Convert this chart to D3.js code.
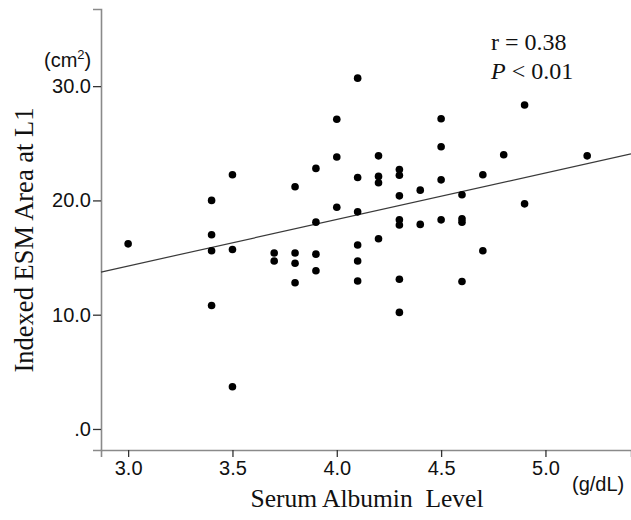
<!DOCTYPE html>
<html>
<head>
<meta charset="utf-8">
<script src="https://cdn.jsdelivr.net/npm/d3@7"></script>
<style>
  html, body { margin: 0; padding: 0; background: #fff; }
  svg { display: block; }
</style>
</head>
<body>
<script>
// ---- data ----
const albumin = [
  3.0,
  3.4, 3.4, 3.4, 3.4,
  3.5, 3.5, 3.5,
  3.7, 3.7,
  3.8, 3.8, 3.8, 3.8,
  3.9, 3.9, 3.9, 3.9,
  4.0, 4.0, 4.0,
  4.1, 4.1, 4.1, 4.1, 4.1, 4.1,
  4.2, 4.2, 4.2, 4.2,
  4.3, 4.3, 4.3, 4.3, 4.3, 4.3, 4.3,
  4.4, 4.4,
  4.5, 4.5, 4.5, 4.5,
  4.6, 4.6, 4.6, 4.6,
  4.7, 4.7,
  4.8,
  4.9, 4.9,
  5.2
];
const esmArea = [
  16.2,
  20.0, 17.0, 15.6, 10.8,
  22.25, 15.7, 3.7,
  15.4, 14.7,
  21.2, 15.4, 14.5, 12.8,
  22.8, 18.1, 15.3, 13.85,
  27.1, 23.8, 19.4,
  30.7, 22.0, 19.0, 16.1, 14.7, 12.95,
  23.9, 22.1, 21.55, 16.65,
  22.7, 22.2, 20.4, 18.3, 17.85, 13.1, 10.2,
  20.9, 17.9,
  27.15, 24.7, 21.8, 18.3,
  20.5, 18.4, 18.1, 12.9,
  22.25, 15.6,
  24.0,
  28.35, 19.7,
  23.9
];
const xTicks = [3.0, 3.5, 4.0, 4.5, 5.0];
const xTickLabels = ["3.0", "3.5", "4.0", "4.5", "5.0"];
const yTicks = [0, 10, 20, 30];
const yTickLabels = [".0", "10.0", "20.0", "30.0"];
const xDomain = [2.87, 5.41];
const yDomain = [-1.84, 36.75];
// fitted line (value at each end of the x axis)
const fitX = [2.87, 5.41];
const fitY = [13.73, 24.07];
const statLines = ["r = 0.38", "< 0.01"];

// ---- drawing ----
const W = 631, H = 520;
const svg = d3.select("body").append("svg").attr("width", W).attr("height", H);

const x = d3.scaleLinear().domain(xDomain).range([101, 631]);
const y = d3.scaleLinear().domain(yDomain).range([450, 9]);

const sans = "Arial, 'Liberation Sans', Helvetica, sans-serif";
const serif = "'Times New Roman', 'Liberation Serif', Times, serif";
const axisGray = "#8a8a8a";

// x axis
const xAxis = d3.axisBottom(x).tickValues(xTicks)
  .tickFormat((d, i) => xTickLabels[i]).tickSizeOuter(0).tickSize(7).tickPadding(4);
const gx = svg.append("g").attr("transform", "translate(0,450)").call(xAxis);
gx.select(".domain").attr("stroke", axisGray).attr("stroke-width", 1.6);
gx.selectAll(".tick line").attr("stroke", "#333").attr("stroke-width", 1.3);
gx.selectAll(".tick text").attr("font-family", sans).attr("font-size", 20).attr("fill", "#111");

// y axis
const yAxis = d3.axisLeft(y).tickValues(yTicks)
  .tickFormat((d, i) => yTickLabels[i]).tickSizeOuter(0).tickSize(8).tickPadding(2);
const gy = svg.append("g").attr("transform", "translate(101,0)").call(yAxis);
gy.select(".domain").attr("stroke", axisGray).attr("stroke-width", 1.6);
gy.selectAll(".tick line").attr("stroke", "#333").attr("stroke-width", 1.3);
gy.selectAll(".tick text").attr("font-family", sans).attr("font-size", 20).attr("fill", "#111");

// fit line
svg.append("line")
  .attr("x1", x(fitX[0])).attr("y1", y(fitY[0]))
  .attr("x2", x(fitX[1])).attr("y2", y(fitY[1]))
  .attr("stroke", "#3a3a3a").attr("stroke-width", 1.2);

// points
svg.append("g").selectAll("circle")
  .data(albumin.map((a, i) => ({ a, v: esmArea[i] })))
  .join("circle")
  .attr("cx", d => x(d.a)).attr("cy", d => y(d.v))
  .attr("r", 3.8).attr("fill", "#000");

// units
const cm = svg.append("text").attr("x", 44).attr("y", 67)
  .attr("font-family", sans).attr("font-size", 20).attr("fill", "#111");
cm.append("tspan").text("(cm");
cm.append("tspan").attr("font-size", 13).attr("dy", -8).text("2");
cm.append("tspan").attr("dy", 8).text(")");

svg.append("text").attr("x", 572).attr("y", 491)
  .attr("font-family", sans).attr("font-size", 20).attr("fill", "#111").text("(g/dL)");

// axis titles
svg.append("text")
  .attr("transform", "translate(33,240) rotate(-90)")
  .attr("text-anchor", "middle")
  .attr("font-family", serif).attr("font-size", 26.5).attr("fill", "#111")
  .text("Indexed ESM Area at L1");

svg.append("text").attr("x", 367).attr("y", 507)
  .attr("text-anchor", "middle")
  .attr("font-family", serif).attr("font-size", 25.5).attr("fill", "#111")
  .attr("xml:space", "preserve").style("white-space", "pre")
  .text("Serum Albumin  Level");

// statistics
svg.append("text").attr("x", 491).attr("y", 50)
  .attr("font-family", serif).attr("font-size", 24).attr("fill", "#111")
  .text(statLines[0]);
const pt = svg.append("text").attr("x", 491).attr("y", 79)
  .attr("font-family", serif).attr("font-size", 24).attr("fill", "#111");
pt.append("tspan").attr("font-style", "italic").text("P");
pt.append("tspan").text(" " + statLines[1]);
</script>
</body>
</html>
